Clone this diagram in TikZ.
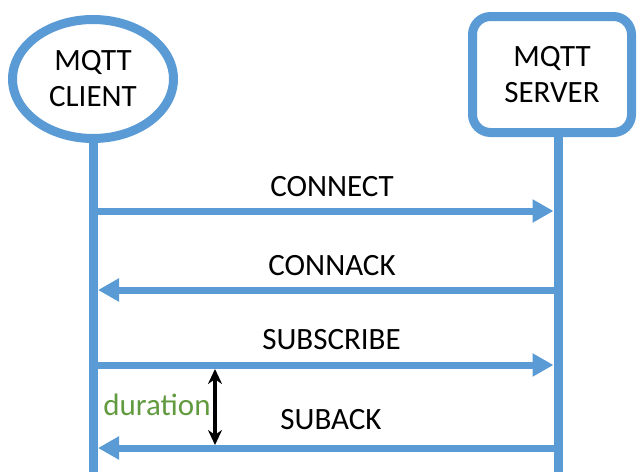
\documentclass[tikz,border=0pt]{standalone}
\usepackage{fontspec}
\setmainfont{Carlito}
\usetikzlibrary{arrows.meta,shapes.geometric}
\definecolor{mqblue}{HTML}{5B9BD5}
\definecolor{mqgreen}{HTML}{629A40}
\tikzset{
  x=1pt, y=-1pt,
  actor/.style={draw=mqblue, line width=9pt, fill=white, inner sep=0pt,
    align=center, font=\fontsize{31}{36}\selectfont},
  lifeline/.style={draw=mqblue, line width=9pt},
  msg/.style={draw=mqblue, line width=7pt,
    -{Triangle[length=21pt,width=22pt]}},
  msglabel/.style={font=\fontsize{31}{36}\selectfont, inner sep=0pt},
  span/.style={draw=black, line width=3.2pt,
    {Stealth[length=15pt,width=14pt]}-{Stealth[length=15pt,width=14pt]}}
}
\begin{document}
\begin{tikzpicture}
\useasboundingbox (0,0) rectangle (637,472);

% lifelines (drawn first, actors cover their tops)
\coordinate (ctop) at (93.5,140);
\coordinate (cbot) at (93.5,472);
\coordinate (stop) at (558,135);
\coordinate (sbot) at (558,472);
\draw[lifeline] (ctop) -- (cbot);
\draw[lifeline] (stop) -- (sbot);

% actors
\node[actor, ellipse, minimum width=161pt, minimum height=119pt]
  (client) at (93,79) {MQTT\\CLIENT};
\node[actor, rectangle, rounded corners=18pt, minimum width=159pt, minimum height=116pt]
  (server) at (552,74.5) {MQTT\\SERVER};

% message end points on the lifelines
\foreach \i/\y in {1/211, 2/290, 3/365, 4/448} {
  \coordinate (c\i) at (98,\y);
  \coordinate (s\i) at (553.5,\y);
}

% messages
\draw[msg] (c1) -- (s1);
\draw[msg] (s2) -- (c2);
\draw[msg] (c3) -- (s3);
\draw[msg] (s4) -- (c4);

\node[msglabel] (l1) at (332,187) {CONNECT};
\node[msglabel] (l2) at (332,266) {CONNACK};
\node[msglabel] (l3) at (331.5,340) {SUBSCRIBE};
\node[msglabel] (l4) at (331,420) {SUBACK};

% duration marker
\coordinate (dtop) at (215,369);
\coordinate (dbot) at (215,445);
\draw[span] (dtop) -- (dbot);
\node[msglabel, text=mqgreen] (dur) at (157,405) {duration};
\end{tikzpicture}
\end{document}
